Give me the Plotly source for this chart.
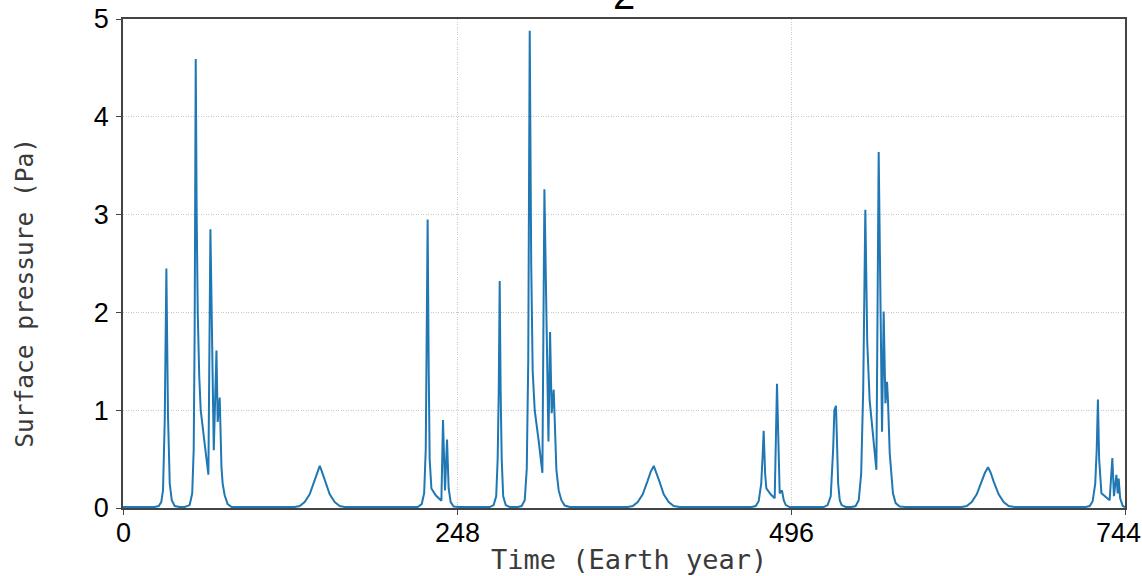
import plotly.graph_objects as go

# Surface pressure episodes (time in Earth years, pressure in Pa)
t_start = [0.0, 20.0]
p_start = [0.01, 0.01]

t_ep1 = [23.5, 26.5, 28.4, 29.7, 31.0, 32.2, 33.4, 34.7, 36.2, 38.4, 42.1]
p_ep1 = [0.01, 0.02, 0.06, 0.18, 0.9, 2.45, 0.95, 0.25, 0.08, 0.02, 0.01]

t_ep2 = [45.8, 49.5, 51.4, 52.5, 53.2, 54.0, 54.7, 55.5, 56.6, 57.7, 60.7, 63.4,
         64.9, 67.4, 69.4, 70.3, 71.8, 73.1, 74.0, 75.5, 77.7, 80.7, 86.7]
p_ep2 = [0.01, 0.03, 0.15, 0.6, 1.8, 4.59, 3.0, 2.0, 1.35, 1.0, 0.65, 0.34,
         2.85, 0.59, 1.61, 0.88, 1.13, 0.42, 0.25, 0.13, 0.04, 0.01, 0.01]

t_ep3 = [127.5, 131.2, 134.9, 138.6, 142.3, 144.6, 146.1, 147.5, 149.8, 153.5,
         157.2, 160.9, 164.6]
p_ep3 = [0.01, 0.02, 0.06, 0.14, 0.28, 0.38, 0.43, 0.38, 0.28, 0.14,
         0.06, 0.02, 0.01]

t_ep4 = [218.8, 221.8, 223.6, 224.8, 225.5, 226.2, 227.0, 227.7, 229.0, 232.2,
         236.4, 237.6, 239.1, 240.6, 241.8, 243.3, 245.5, 250.0]
p_ep4 = [0.01, 0.04, 0.15, 0.6, 1.5, 2.95, 1.4, 0.5, 0.2, 0.13,
         0.075, 0.9, 0.18, 0.70, 0.2, 0.06, 0.015, 0.01]

t_ep5 = [272.3, 275.2, 277.1, 278.2, 279.0, 279.7, 280.4, 281.2, 282.3, 284.2, 287.1]
p_ep5 = [0.01, 0.03, 0.12, 0.5, 1.2, 2.32, 1.2, 0.5, 0.12, 0.03, 0.01]

t_ep6 = [293.1, 296.0, 298.3, 299.8, 300.9, 302.0, 303.1, 304.2, 305.7, 308.7,
         311.4, 312.9, 315.9, 317.1, 318.3, 319.8, 321.8, 323.5, 325.5, 328.0, 331.7]
p_ep6 = [0.01, 0.02, 0.08, 0.4, 1.5, 4.88, 2.5, 1.4, 1.0, 0.68,
         0.36, 3.26, 0.68, 1.80, 0.97, 1.21, 0.39, 0.18, 0.08, 0.025, 0.01]

t_ep7 = [374.7, 378.5, 382.2, 385.9, 389.6, 391.8, 394.1, 395.9, 398.1, 401.5,
         405.2, 408.9, 413.4]
p_ep7 = [0.01, 0.02, 0.06, 0.14, 0.28, 0.37, 0.43, 0.37, 0.28, 0.14,
         0.06, 0.02, 0.01]

t_ep8 = [466.8, 469.8, 472.0, 473.9, 475.0, 475.7, 476.8, 477.7, 480.9, 483.9,
         485.6, 486.9, 487.6, 489.3, 490.6, 492.1, 495.0]
p_ep8 = [0.01, 0.02, 0.07, 0.25, 0.55, 0.79, 0.35, 0.2, 0.14, 0.10,
         1.27, 0.35, 0.15, 0.18, 0.08, 0.03, 0.01]

t_ep9 = [520.3, 523.2, 525.5, 527.3, 528.2, 529.4, 530.3, 531.0, 532.2, 533.6, 536.6]
p_ep9 = [0.01, 0.03, 0.12, 0.6, 1.0, 1.045, 0.6, 0.25, 0.08, 0.03, 0.01]

t_ep10 = [541.1, 544.0, 546.3, 548.1, 549.6, 551.2, 552.6, 554.4, 556.7, 559.4,
          561.1, 563.6, 564.8, 566.1, 567.3, 568.0, 569.3, 571.7, 573.7, 576.7, 581.2]
p_ep10 = [0.01, 0.02, 0.08, 0.35, 1.2, 3.05, 1.7, 1.1, 0.75, 0.39,
          3.64, 0.78, 2.01, 1.07, 1.29, 1.1, 0.56, 0.15, 0.05, 0.015, 0.01]

t_ep11 = [622.7, 626.5, 630.2, 633.9, 637.6, 640.0, 642.3, 644.3, 646.5, 650.2,
          653.9, 657.6, 662.1]
p_ep11 = [0.01, 0.02, 0.06, 0.14, 0.27, 0.36, 0.417, 0.36, 0.27, 0.14,
          0.06, 0.02, 0.01]

t_ep12 = [714.8, 717.8, 720.0, 721.9, 723.0, 723.9, 724.8, 726.5, 729.7, 732.6,
          734.6, 735.8, 737.6, 738.6, 739.3, 740.4, 742.3, 744.0]
p_ep12 = [0.01, 0.02, 0.07, 0.25, 0.6, 1.11, 0.5, 0.15, 0.11, 0.08,
          0.51, 0.12, 0.34, 0.15, 0.3, 0.1, 0.02, 0.01]

x_ticks = [0, 248, 496, 744]
y_ticks = [0, 1, 2, 3, 4, 5]
panel_label = "2"
x_title = "Time (Earth year)"
y_title = "Surface pressure (Pa)"

episodes_t = [t_start, t_ep1, t_ep2, t_ep3, t_ep4, t_ep5, t_ep6, t_ep7, t_ep8,
              t_ep9, t_ep10, t_ep11, t_ep12]
episodes_p = [p_start, p_ep1, p_ep2, p_ep3, p_ep4, p_ep5, p_ep6, p_ep7, p_ep8,
              p_ep9, p_ep10, p_ep11, p_ep12]

time_yr = [t for seg in episodes_t for t in seg]
pressure_pa = [p for seg in episodes_p for p in seg]

fig = go.Figure()
fig.add_trace(go.Scatter(
    x=time_yr, y=pressure_pa, mode="lines",
    line=dict(color="#1f77b4", width=2),
    showlegend=False,
))

tick_font = dict(family="Liberation Sans, Arial, sans-serif", size=27, color="black")

axis_common = dict(
    showline=True, mirror=True, linecolor="#444444", linewidth=1.5,
    showgrid=True, gridcolor="#c8c8c8", griddash="1px,1.5px", gridwidth=1,
    zeroline=False, ticks="outside", ticklen=5, tickcolor="#444444",
    tickfont=tick_font, automargin=False,
)

fig.update_xaxes(range=[0, 744], tickvals=x_ticks, showticklabels=False,
                 **axis_common)
fig.update_yaxes(range=[0, 5], tickvals=y_ticks,
                 ticktext=[str(v) for v in y_ticks], ticklabelstandoff=2,
                 **axis_common)

# x tick labels, kept inside the page at the right edge
for i, v in enumerate(x_ticks):
    fig.add_annotation(
        text=str(v), xref="x", yref="paper", x=v, y=0, yshift=-8,
        xanchor="center", yanchor="top", showarrow=False, font=tick_font,
        xshift=-7 if i == len(x_ticks) - 1 else 0,
    )

mono = dict(family="DejaVu Sans Mono, monospace", color="#3a3a3a")

# Axis titles
fig.add_annotation(
    text=x_title, xref="paper", yref="paper", x=0.505, y=-0.105,
    xanchor="center", yanchor="middle", showarrow=False,
    font=dict(size=27, **mono),
)
fig.add_annotation(
    text=y_title, xref="paper", yref="paper", x=0, y=0.44, xshift=-98,
    xanchor="center", yanchor="middle", showarrow=False, textangle=-90,
    font=dict(size=24.5, **mono),
)

# Panel label above the plot
fig.add_annotation(
    text=panel_label, xref="paper", yref="paper", x=0.5, y=1.0,
    xanchor="center", yanchor="bottom", showarrow=False,
    font=dict(family="Liberation Sans, Arial, sans-serif", size=40, color="black"),
)

fig.update_layout(
    width=1142, height=576,
    margin=dict(l=123, r=17, t=19, b=68),
    plot_bgcolor="white", paper_bgcolor="white",
)

fig.write_html("out.html")
